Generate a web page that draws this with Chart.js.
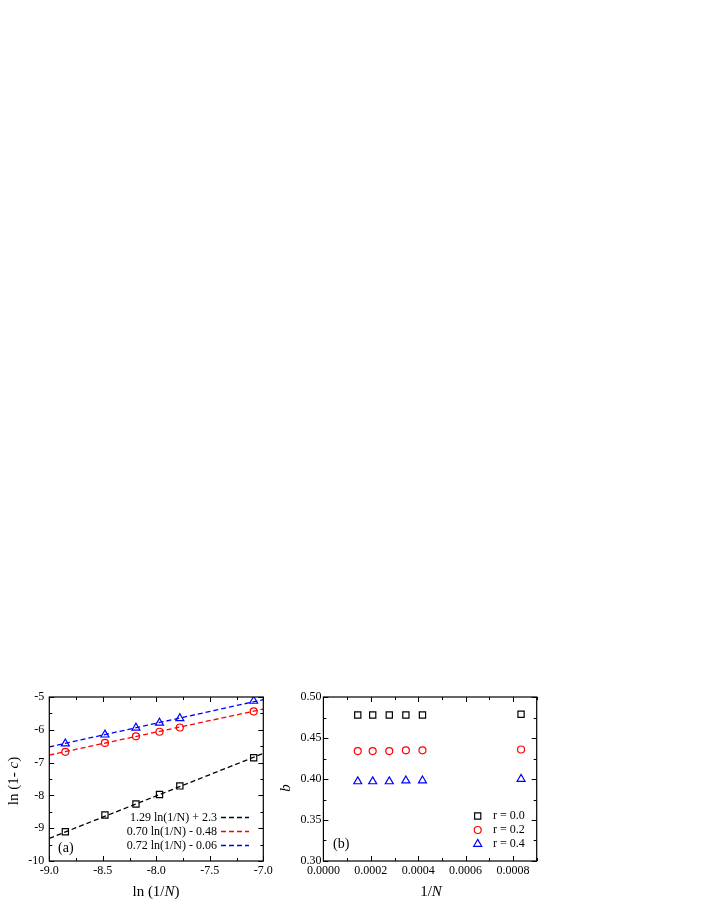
<!DOCTYPE html>
<html>
<head>
<meta charset="utf-8">
<script src="https://cdn.jsdelivr.net/npm/chart.js@4/dist/chart.umd.min.js"></script>
<style>
    body { margin: 0; background: #fff; width: 706px; height: 913px; position: relative; overflow: hidden; }
    canvas { position: absolute; }
    #chartA { left: 0; top: 670px; }
    #chartB { left: 280px; top: 670px; }
</style>
</head>
<body>
<canvas id="chartA" width="280" height="243"></canvas>
<canvas id="chartB" width="300" height="243"></canvas>
<script>
// ---- panel (a) data: ln(1-c) vs ln(1/N) ----
const lnInvN = [-8.85, -8.48, -8.19, -7.97, -7.78, -7.09];
const lnR0 = [-9.11, -8.60, -8.26, -7.97, -7.71, -6.85];
const lnR2 = [-6.67, -6.40, -6.20, -6.06, -5.93, -5.44];
const lnR4 = [-6.42, -6.15, -5.94, -5.79, -5.65, -5.12];

// fit lines, end points
const fitX = [-9.0, -7.0];
const fitR0 = [-9.31, -6.72];
const fitR2 = [-6.77, -5.37];
const fitR4 = [-6.52, -5.08];
const fitLabels = ['1.29 ln(1/N) + 2.3', '0.70 ln(1/N) - 0.48', '0.72 ln(1/N) - 0.06'];

const aXTicks = [-9.0, -8.5, -8.0, -7.5, -7.0];
const aXMinor = [-8.75, -8.25, -7.75, -7.25];
const aYTicks = [-10, -9, -8, -7, -6, -5];
const aYMinor = [-9.5, -8.5, -7.5, -6.5, -5.5];

// ---- panel (b) data: b vs 1/N ----
const invN = [0.000145, 0.000208, 0.000278, 0.000348, 0.000418, 0.000834];
const bR0 = [0.478, 0.478, 0.478, 0.478, 0.478, 0.479];
const bR2 = [0.434, 0.434, 0.434, 0.435, 0.435, 0.436];
const bR4 = [0.397, 0.397, 0.397, 0.398, 0.398, 0.400];
const rLabels = ['r = 0.0', 'r = 0.2', 'r = 0.4'];

const bXTicks = [0, 0.0002, 0.0004, 0.0006, 0.0008];
const bXMinor = [0.0001, 0.0003, 0.0005, 0.0007, 0.0009];
const bYTicks = [0.30, 0.35, 0.40, 0.45, 0.50];
const bYMinor = [0.325, 0.375, 0.425, 0.475];

const colors = ['#000000', '#ff0000', '#0000ff'];
const styles = ['rect', 'circle', 'triangle'];
const radii = [4.4, 3.5, 4.6];
const SERIF = "'Liberation Serif', 'Times New Roman', serif";

Chart.defaults.font.family = SERIF;
Chart.defaults.font.size = 12;
Chart.defaults.color = '#000';

const pts = (xs, ys) => xs.map((x, i) => ({ x: x, y: ys[i] }));

function markerSet(xs, ys, i, label) {
    return {
        type: 'scatter',
        label: label,
        data: pts(xs, ys),
        pointStyle: styles[i],
        pointRadius: radii[i],
        pointBorderColor: colors[i],
        pointBackgroundColor: 'rgba(0,0,0,0)',
        pointBorderWidth: 1.2,
        showLine: false
    };
}

function fitSet(ys, i) {
    return {
        type: 'line',
        label: fitLabels[i],
        data: pts(fitX, ys),
        borderColor: colors[i],
        borderWidth: 1.3,
        borderDash: [5, 3],
        pointRadius: 0,
        fill: false
    };
}

// draw a marker the same way for the legend
function drawMarker(ctx, style, x, y, r, color) {
    ctx.save();
    ctx.strokeStyle = color;
    ctx.lineWidth = 1.2;
    ctx.beginPath();
    if (style === 'rect') {
        const s = Math.SQRT1_2 * r;
        ctx.rect(x - s, y - s, 2 * s, 2 * s);
    } else if (style === 'circle') {
        ctx.arc(x, y, r, 0, Math.PI * 2);
    } else {
        ctx.moveTo(x, y - r);
        ctx.lineTo(x + r * Math.sin(Math.PI * 2 / 3), y + r / 2);
        ctx.lineTo(x - r * Math.sin(Math.PI * 2 / 3), y + r / 2);
        ctx.closePath();
    }
    ctx.stroke();
    ctx.restore();
}

// box frame + inward ticks on all four sides
const frameTicks = {
    id: 'frameTicks',
    afterDraw(chart, args, opts) {
        const { ctx, chartArea: a, scales: { x, y } } = chart;
        ctx.save();
        ctx.strokeStyle = '#000';
        ctx.lineWidth = 1.2;
        ctx.strokeRect(a.left, a.top, a.right - a.left, a.bottom - a.top);
        ctx.lineWidth = 1;
        ctx.beginPath();
        const xt = (vals, len) => vals.forEach(v => {
            const px = Math.round(x.getPixelForValue(v)) + 0.5;
            ctx.moveTo(px, a.bottom); ctx.lineTo(px, a.bottom - len);
            ctx.moveTo(px, a.top); ctx.lineTo(px, a.top + len);
        });
        const yt = (vals, len) => vals.forEach(v => {
            const py = Math.round(y.getPixelForValue(v)) + 0.5;
            ctx.moveTo(a.left, py); ctx.lineTo(a.left + len, py);
            ctx.moveTo(a.right, py); ctx.lineTo(a.right - len, py);
        });
        xt(opts.xMajor, 5); xt(opts.xMinor, 3);
        yt(opts.yMajor, 5); yt(opts.yMinor, 3);
        ctx.stroke();
        ctx.restore();
    }
};

// axis titles with mixed upright / italic parts
function drawParts(ctx, parts, cx, cy, size, rotate) {
    ctx.save();
    ctx.translate(cx, cy);
    if (rotate) ctx.rotate(-Math.PI / 2);
    let total = 0;
    parts.forEach(p => {
        ctx.font = (p[1] ? 'italic ' : '') + size + 'px ' + SERIF;
        total += ctx.measureText(p[0]).width;
    });
    let xx = -total / 2;
    ctx.fillStyle = '#000';
    ctx.textBaseline = 'middle';
    parts.forEach(p => {
        ctx.font = (p[1] ? 'italic ' : '') + size + 'px ' + SERIF;
        ctx.fillText(p[0], xx, 0);
        xx += ctx.measureText(p[0]).width;
    });
    ctx.restore();
}

const titles = {
    id: 'titles',
    afterDraw(chart, args, opts) {
        const ctx = chart.ctx;
        drawParts(ctx, opts.xTitle, opts.xPos[0], opts.xPos[1], 15, false);
        drawParts(ctx, opts.yTitle, opts.yPos[0], opts.yPos[1], 15, true);
        ctx.save();
        ctx.font = '14px ' + SERIF;
        ctx.textBaseline = 'middle';
        ctx.fillText(opts.tag, opts.tagPos[0], opts.tagPos[1]);
        ctx.restore();
    }
};

// legend of panel (a): text then dashed line sample
const fitLegend = {
    id: 'fitLegend',
    afterDraw(chart, args, opts) {
        if (!opts.on) return;
        const ctx = chart.ctx;
        ctx.save();
        ctx.font = '12px ' + SERIF;
        ctx.textBaseline = 'middle';
        ctx.textAlign = 'right';
        let row = 0;
        chart.data.datasets.forEach(ds => {
            if (ds.type !== 'line') return;
            const yy = opts.y + row * opts.gap;
            ctx.fillStyle = '#000';
            ctx.fillText(ds.label, opts.textRight, yy);
            ctx.strokeStyle = ds.borderColor;
            ctx.lineWidth = ds.borderWidth;
            ctx.setLineDash(ds.borderDash);
            ctx.beginPath();
            ctx.moveTo(opts.line[0], yy);
            ctx.lineTo(opts.line[1], yy);
            ctx.stroke();
            row++;
        });
        ctx.restore();
    }
};

// legend of panel (b): marker then text
const markLegend = {
    id: 'markLegend',
    afterDraw(chart, args, opts) {
        if (!opts.on) return;
        const ctx = chart.ctx;
        ctx.save();
        ctx.font = '12px ' + SERIF;
        ctx.textBaseline = 'middle';
        ctx.fillStyle = '#000';
        chart.data.datasets.forEach((ds, i) => {
            const yy = opts.y + i * opts.gap;
            drawMarker(ctx, ds.pointStyle, opts.markX, yy, ds.pointRadius, ds.pointBorderColor);
            ctx.fillText(ds.label, opts.textX, yy);
        });
        ctx.restore();
    }
};

function axes(xMin, xMax, xTicks, xFmt, yMin, yMax, yTicks, yFmt, yWidth, yPad) {
    return {
        x: {
            type: 'linear', min: xMin, max: xMax,
            afterBuildTicks: s => { s.ticks = xTicks.map(v => ({ value: v })); },
            afterFit: s => { s.height = 52; },
            grid: { display: false, drawTicks: false },
            border: { display: false },
            ticks: { padding: 3, maxRotation: 0, autoSkip: false, callback: v => v.toFixed(xFmt) }
        },
        y: {
            type: 'linear', min: yMin, max: yMax,
            afterBuildTicks: s => { s.ticks = yTicks.map(v => ({ value: v })); },
            afterFit: s => { s.width = yWidth; },
            grid: { display: false, drawTicks: false },
            border: { display: false },
            ticks: { padding: yPad, autoSkip: false, callback: v => v.toFixed(yFmt) }
        }
    };
}

new Chart(document.getElementById('chartA'), {
    data: {
        datasets: [
            fitSet(fitR0, 0), fitSet(fitR2, 1), fitSet(fitR4, 2),
            markerSet(lnInvN, lnR0, 0), markerSet(lnInvN, lnR2, 1), markerSet(lnInvN, lnR4, 2)
        ]
    },
    options: {
        responsive: false,
        animation: false,
        layout: { padding: { top: 27, right: 16.7, left: 0, bottom: 0 } },
        scales: axes(-9, -7, aXTicks, 1, -10, -5, aYTicks, 0, 49.3, 5),
        plugins: {
            legend: { display: false },
            tooltip: { enabled: false },
            frameTicks: { xMajor: aXTicks, xMinor: aXMinor, yMajor: aYTicks, yMinor: aYMinor },
            titles: {
                xTitle: [['ln (1/', false], ['N', true], [')', false]], xPos: [156, 222],
                yTitle: [['ln (1- ', false], ['c', true], [')', false]], yPos: [14, 111],
                tag: '(a)', tagPos: [58, 178]
            },
            fitLegend: { on: true, y: 147.5, gap: 14, textRight: 217, line: [221, 249] }
        }
    },
    plugins: [frameTicks, titles, fitLegend]
});

new Chart(document.getElementById('chartB'), {
    data: {
        datasets: [
            markerSet(invN, bR0, 0, rLabels[0]),
            markerSet(invN, bR2, 1, rLabels[1]),
            markerSet(invN, bR4, 2, rLabels[2])
        ]
    },
    options: {
        responsive: false,
        animation: false,
        layout: { padding: { top: 27, right: 43.3, left: 0, bottom: 0 } },
        scales: axes(0, 0.0009, bXTicks, 4, 0.30, 0.50, bYTicks, 2, 43.4, 2),
        plugins: {
            legend: { display: false },
            tooltip: { enabled: false },
            frameTicks: { xMajor: bXTicks, xMinor: bXMinor, yMajor: bYTicks, yMinor: bYMinor },
            titles: {
                xTitle: [['1/', false], ['N', true]], xPos: [151, 222],
                yTitle: [['b', true]], yPos: [6, 118],
                tag: '(b)', tagPos: [53, 174]
            },
            markLegend: { on: true, y: 146, gap: 14, markX: 197.7, textX: 213 }
        }
    },
    plugins: [frameTicks, titles, markLegend]
});
</script>
</body>
</html>
